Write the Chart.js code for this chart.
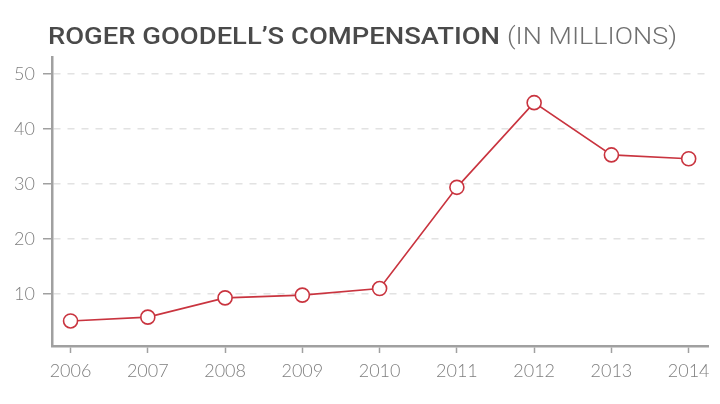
<!DOCTYPE html>
<html>
<head>
<meta charset="utf-8">
<script src="https://cdn.jsdelivr.net/npm/chart.js@4/dist/chart.umd.min.js"></script>
<style>
  html, body { margin: 0; padding: 0; background: #fff; }
  #wrap { width: 720px; height: 404px; }
</style>
</head>
<body>
<div id="wrap"><canvas id="myChart" width="720" height="404"></canvas></div>
<script>
// data
const years = [2006, 2007, 2008, 2009, 2010, 2011, 2012, 2013, 2014];
const pay = [5.1, 5.8, 9.3, 9.8, 11.0, 29.4, 44.8, 35.3, 34.6];
const yTicks = [10, 20, 30, 40, 50];
const titleBold = "ROGER GOODELL\u2019S COMPENSATION";
const titleLight = "(IN MILLIONS)";

const red = "#c9343f";
const axisGrey = "#a0a0a0";
const labelGrey = "#7f7f7f";

// title drawn on canvas, squeezed to the widths in the picture
const titlePlugin = {
  id: "titlePlugin",
  afterDraw(chart) {
    const c = chart.ctx;
    c.save();
    c.textBaseline = "alphabetic";
    c.fillStyle = "#4a4a4a";
    c.font = "500 24px 'Roboto'";
    let w = c.measureText(titleBold).width;
    c.save();
    c.translate(48, 44);
    c.scale(452 / w, 1);
    c.fillText(titleBold, 0, 0);
    c.restore();
    c.fillStyle = "#707070";
    c.font = "300 24px 'Roboto'";
    w = c.measureText(titleLight).width;
    c.translate(507, 44);
    c.scale(170 / w, 1);
    c.fillText(titleLight, 0, 0);
    c.restore();
  }
};

const ctx = document.getElementById("myChart");
new Chart(ctx, {
  type: "line",
  data: {
    datasets: [
      {
        label: "Compensation",
        data: years.map((y, i) => ({ x: y, y: pay[i] })),
        borderColor: red,
        borderWidth: 1.6,
        pointRadius: 7,
        pointHoverRadius: 7,
        pointBorderWidth: 1.6,
        pointBackgroundColor: "#fff",
        pointBorderColor: red,
        tension: 0,
        fill: false,
      },
    ],
  },
  plugins: [titlePlugin],
  options: {
    responsive: false,
    animation: false,
    events: [],
    layout: { padding: { top: 57, right: 12, left: 0, bottom: 0 } },
    plugins: {
      legend: { display: false },
      tooltip: { enabled: false },
      title: { display: false },
    },
    scales: {
      x: {
        type: "linear",
        min: 2005.76,
        max: 2014.25,
        afterBuildTicks: (s) => { s.ticks = years.map((v) => ({ value: v })); },
        afterFit: (s) => { s.height = 58; },
        border: { display: true, color: axisGrey, width: 2.5 },
        grid: {
          drawOnChartArea: false,
          drawTicks: true,
          tickLength: 7,
          tickColor: axisGrey,
          tickWidth: 1.5,
        },
        ticks: {
          color: labelGrey,
          font: { family: "Lato", size: 18, weight: "300" },
          padding: 7,
          maxRotation: 0,
          autoSkip: false,
          callback: (v) => String(v),
        },
      },
      y: {
        min: 0.55,
        max: 53.1,
        afterBuildTicks: (s) => { s.ticks = yTicks.map((v) => ({ value: v })); },
        afterFit: (s) => { s.width = 52; },
        border: { display: true, color: axisGrey, width: 2.5, dash: [7, 7] },
        grid: {
          color: "#e2e2e2",
          lineWidth: 1.5,
          tickLength: 9,
          tickColor: axisGrey,
          tickWidth: 1.5,
          tickBorderDash: [],
        },
        ticks: {
          color: labelGrey,
          font: { family: "Lato", size: 18, weight: "300" },
          padding: 8,
        },
      },
    },
  },
});
</script>
</body>
</html>
